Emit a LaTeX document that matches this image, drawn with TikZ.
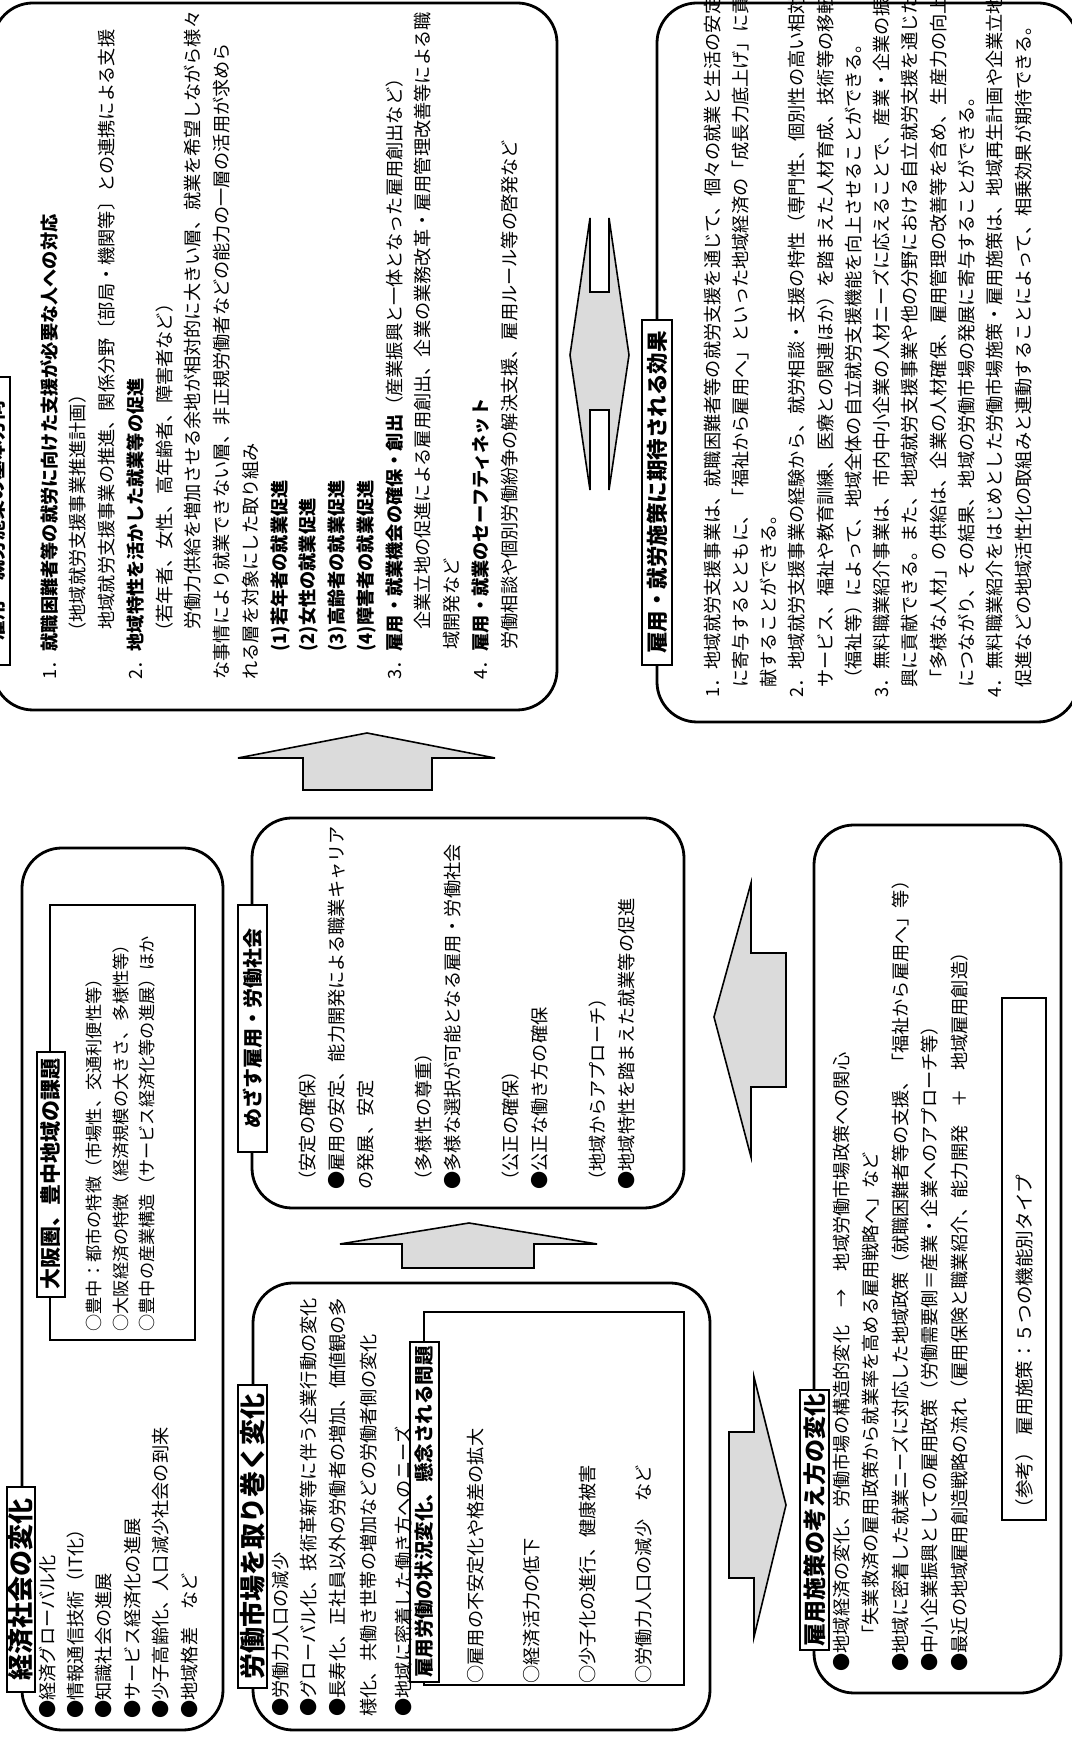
\documentclass[tikz,border=0pt]{standalone}
\usepackage{fontspec}
\setmainfont{Noto Sans CJK JP}
\tikzset{
  bx/.style={draw=black, line width=1.4pt, rounded corners=20pt},
  ibx/.style={draw=black, line width=1pt},
  lab/.style={draw=black, line width=1pt, fill=white, inner sep=0pt, transform shape, align=center},
  txt/.style={anchor=base west, inner sep=0pt, align=left, transform shape},
  arr/.style={draw=black, line width=0.8pt, fill=gray!28, line join=miter},
}
\newcommand\fsz[2]{\fontsize{#1}{#2}\selectfont}
\begin{document}
\begin{tikzpicture}[x=0.5pt,y=0.5pt]
\begin{scope}[rotate=90]
\useasboundingbox (0,0) rectangle (1740,-1071);
\fill[white] (0,0) rectangle (1740,-1071);
% ---------- outer boxes
\draw[bx] (1030,7) rectangle (1737,-557);     % A
\draw[bx] (1018,-657) rectangle (1737,-1078); % I
\draw[bx] (10,-22) rectangle (892,-223);      % B
\draw[bx] (10,-253) rectangle (457,-710);     % D
\draw[bx] (532,-252) rectangle (922,-684);    % F
\draw[bx] (47,-814) rectangle (915,-1061);    % G
% ---------- inner boxes
\draw[ibx] (400,-50) rectangle (835,-195);    % C
\draw[ibx] (55,-424) rectangle (428,-684);    % E
\draw[ibx] (220,-1002) rectangle (742,-1046); % H
% ---------- arrows
\draw[arr] (472,-402) -- (496,-402) -- (496,-340) -- (517,-469) -- (496,-597) -- (496,-534) -- (472,-534) -- cycle;
\draw[arr] (950,-303) -- (982,-303) -- (982,-238) -- (1007,-367) -- (982,-495) -- (982,-432) -- (950,-432) -- cycle;
\draw[arr] (653,-786) -- (653,-751) -- (583,-751) -- (723,-714) -- (857,-751) -- (787,-751) -- (787,-786) -- cycle;
\draw[arr] (162,-729) -- (162,-754) -- (103,-754) -- (235,-786) -- (363,-754) -- (308,-754) -- (308,-729) -- cycle;
\draw[arr] (1522,-590) -- (1448,-590) -- (1448,-609) -- (1522,-609) -- (1385,-629) -- (1250,-609) -- (1330,-609) -- (1330,-590) -- (1250,-590) -- (1385,-570) -- cycle;
% ---------- labels
\node[lab, minimum width=144pt, minimum height=14.5pt, font=\bfseries\fsz{10pt}{10pt}] (la) at (1219,4.5) {雇用・就労施策の基本方向};
\node[lab, minimum width=172.5pt, minimum height=15pt, font=\bfseries\fsz{10.75pt}{10.75pt}] (li) at (1247.5,-657) {雇用・就労施策に期待される効果};
\node[lab, minimum width=102.5pt, minimum height=14pt, font=\bfseries\fsz{13pt}{13pt}] (lb) at (150.5,-21) {経済社会の変化};
\node[lab, minimum width=122.5pt, minimum height=14pt, font=\bfseries\fsz{10.5pt}{10.5pt}] (lc) at (565.5,-51) {大阪圏、豊中地域の課題};
\node[lab, minimum width=151.5pt, minimum height=14.5pt, font=\bfseries\fsz{13pt}{13pt}] (ld) at (203.5,-252.5) {労働市場を取り巻く変化};
\node[lab, minimum width=170pt, minimum height=14.5pt, font=\bfseries\fsz{9.75pt}{9.75pt}] (le) at (228,-424.5) {雇用労働の状況変化、懸念される問題};
\node[lab, minimum width=123.5pt, minimum height=14.5pt, font=\bfseries\fsz{10pt}{10pt}] (lf) at (711.5,-252.5) {めざす雇用・労働社会};
\node[lab, minimum width=130pt, minimum height=14.5pt, font=\bfseries\fsz{11.5pt}{11.5pt}] (lg) at (220,-814.5) {雇用施策の考え方の変化};
% ---------- texts (anchor = baseline of the last line)
\node[txt, font=\fsz{9.1pt}{14.375pt}] (ta) at (1060,-516) {%
1．\textbf{就職困難者等の就労に向けた支援が必要な人への対応}\\
\hspace*{19.5pt}（地域就労支援事業推進計画）\\
\hspace*{25pt}地域就労支援事業の推進、関係分野〔部局・機関等〕との連携による支援\\
2．\textbf{地域特性を活かした就業等の促進}\\
\hspace*{19.5pt}（若年者、女性、高年齢者、障害者など）\\
\hspace*{25pt}労働力供給を増加させる余地が相対的に大きい層、就業を希望しながら様々\\
な事情により就業できない層、非正規労働者などの能力の一層の活用が求めら\\
れる層を対象にした取り組み\\
\hspace*{14pt}\textbf{(1)若年者の就業促進}\\
\hspace*{14pt}\textbf{(2)女性の就業促進}\\
\hspace*{14pt}\textbf{(3)高齢者の就業促進}\\
\hspace*{14pt}\textbf{(4)障害者の就業促進}\\
3．\textbf{雇用・就業機会の確保・創出}（産業振興と一体となった雇用創出など）\\
\hspace*{25pt}企業立地の促進による雇用創出、企業の業務改革・雇用管理改善等による職\\
\hspace*{15pt}域開発など\\
4．\textbf{雇用・就業のセーフティネット}\\
\hspace*{15pt}労働相談や個別労働紛争の解決支援、雇用ルール等の啓発など};
\node[txt, font=\fsz{9.1pt}{14.13pt}] (ti) at (1042,-1030) {%
1．地域就労支援事業は、就職困難者等の就労支援を通じて、個々の就業と生活の安定\\
\hspace*{5pt}に寄与するとともに、「福祉から雇用へ」といった地域経済の「成長力底上げ」に貢\\
\hspace*{5pt}献することができる。\\
2．地域就労支援事業の経験から、就労相談・支援の特性（専門性、個別性の高い相対\\
\hspace*{5pt}サービス、福祉や教育訓練、医療との関連ほか）を踏まえた人材育成、技術等の移転\\
\hspace*{5pt}（福祉等）によって、地域全体の自立就労支援機能を向上させることができる。\\
3．無料職業紹介事業は、市内中小企業の人材ニーズに応えることで、産業・企業の振\\
\hspace*{5pt}興に貢献できる。また、地域就労支援事業や他の分野における自立就労支援を通じた\\
\hspace*{5pt}「多様な人材」の供給は、企業の人材確保、雇用管理の改善等を含め、生産力の向上\\
\hspace*{5pt}につながり、その結果、地域の労働市場の発展に寄与することができる。\\
4．無料職業紹介をはじめとした労働市場施策・雇用施策は、地域再生計画や企業立地\\
\hspace*{5pt}促進などの地域活性化の取組みと連動することによって、相乗効果が期待できる。};
\node[txt, font=\fsz{9.1pt}{14.2pt}] (tb) at (21,-196) {%
●経済グローバル化\\
●情報通信技術（IT化）\\
●知識社会の進展\\
●サービス経済化の進展\\
●少子高齢化、人口減少社会の到来\\
●地域格差　など};
\node[txt, font=\fsz{8.6pt}{13.25pt}] (tc) at (408,-153.5) {%
○豊中：都市の特徴（市場性、交通利便性等）\\
○大阪経済の特徴（経済規模の大きさ、多様性等）\\
○豊中の産業構造（サービス経済化等の進展）ほか};
\node[txt, font=\fsz{9.1pt}{14pt}] (td) at (23,-410) {%
●労働力人口の減少\\
●グローバル化、技術革新等に伴う企業行動の変化\\[0.5pt]
●長寿化、正社員以外の労働者の増加、価値観の多\\[1.5pt]
様化、共働き世帯の増加などの労働者側の変化\\[3.5pt]
●地域に密着した働き方へのニーズ};
\node[txt, font=\fsz{9.1pt}{28pt}] (te) at (56,-650) {%
○雇用の不安定化や格差の拡大\\
○経済活力の低下\\
○少子化の進行、健康被害\\
○労働力人口の減少　など};
\node[txt, font=\fsz{9.1pt}{14.5pt}] (tf) at (550,-633) {%
（安定の確保）\\
●雇用の安定、能力開発による職業キャリア\\
の発展、安定\\[14.5pt]
（多様性の尊重）\\
●多様な選択が可能となる雇用・労働社会\\[14.5pt]
（公正の確保）\\
●公正な働き方の確保\\[14.5pt]
（地域からアプローチ）\\
●地域特性を踏まえた就業等の促進};
\node[txt, font=\fsz{9.1pt}{14.75pt}] (tg) at (68,-966) {%
●地域経済の変化、労働市場の構造的変化　→　地域労働市場政策への関心\\
\hspace*{14pt}「失業救済の雇用政策から就業率を高める雇用戦略へ」など\\
●地域に密着した就業ニーズに対応した地域政策（就職困難者等の支援、「福祉から雇用へ」等）\\
●中小企業振興としての雇用政策（労働需要側＝産業・企業へのアプローチ等）\\
●最近の地域雇用創造戦略の流れ（雇用保険と職業紹介、能力開発　＋　地域雇用創造）};
\node[txt, font=\fsz{9.3pt}{9.3pt}] (th) at (222,-1031) {（参考）\hspace{4pt}雇用施策：５つの機能別タイプ};
\end{scope}
\end{tikzpicture}
\end{document}
